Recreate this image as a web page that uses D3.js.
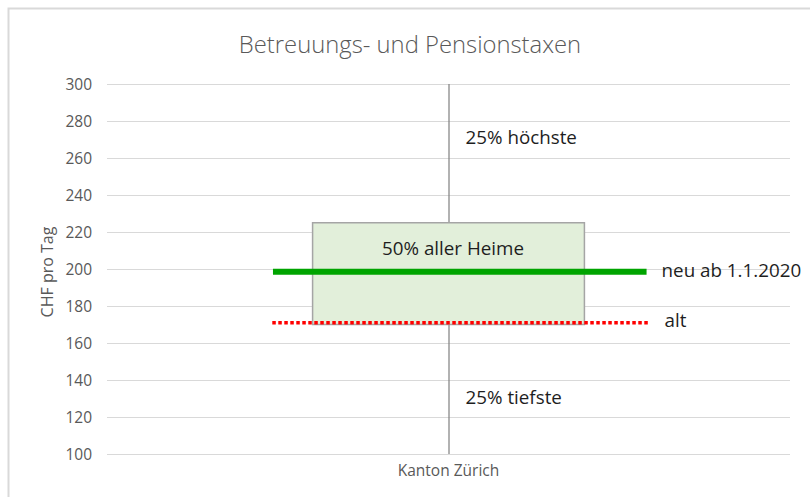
<!DOCTYPE html>
<html><head><meta charset="utf-8">
<script src="https://cdn.jsdelivr.net/npm/d3@7"></script>
<style>
html,body{margin:0;padding:0;background:#fff;}
text{font-family:"Open Sans","Noto Sans",sans-serif;}
</style></head>
<body>
<svg id="chart" width="810" height="497"></svg>
<script>
// ---- data ----
const categories = ["Kanton Zürich"];
const whiskerLow = [100];
const boxLow = [170];
const boxHigh = [225];
const whiskerHigh = [300];
const rateNew = [198.5];
const rateOld = [171];
const yTicks = [100,120,140,160,180,200,220,240,260,280,300];
const title = "Betreuungs- und Pensionstaxen";
const yTitle = "CHF pro Tag";
const labelTop = "25% höchste";
const labelMid = "50% aller Heime";
const labelBottom = "25% tiefste";
const labelNew = "neu ab 1.1.2020";
const labelOld = "alt";

const svg = d3.select("#chart");
const W = 810, H = 497;
const plot = {left:107, right:790, top:84, bottom:454};

// chart frame
svg.append("rect").attr("x",0).attr("y",0).attr("width",W).attr("height",H).attr("fill","#fff");
svg.append("path").attr("d",`M8.5,${H}V8.5H${W}`).attr("fill","none").attr("stroke","#d9d9d9").attr("stroke-width",2);

const x = d3.scaleBand().domain(categories).range([plot.left, plot.right]);
const y = d3.scaleLinear().domain([100,300]).range([plot.bottom, plot.top]);
const bw = x.bandwidth();

// gridlines
svg.append("g").selectAll("line").data(yTicks).join("line")
  .attr("x1",plot.left).attr("x2",plot.right)
  .attr("y1",d=>y(d)+0.5).attr("y2",d=>y(d)+0.5)
  .attr("stroke","#d9d9d9").attr("stroke-width",1);

// y axis labels
const yAxis = d3.axisLeft(y).tickValues(yTicks).tickSize(0).tickPadding(0).tickFormat(d3.format("d"));
const ga = svg.append("g").attr("transform",`translate(${plot.left-15},0)`).call(yAxis);
ga.select(".domain").remove();
ga.selectAll("text").attr("font-family","Open Sans").attr("font-size",15.5).attr("fill","#595959").attr("dy","0.35em");

// x axis label
const gx = svg.append("g").attr("transform",`translate(0,${plot.bottom})`)
  .call(d3.axisBottom(x).tickSize(0).tickPadding(0));
gx.select(".domain").remove();
gx.selectAll("text").attr("font-family","Open Sans").attr("font-size",15.5).attr("fill","#595959").attr("dy","1.45em");

categories.forEach((c,i)=>{
  const cx = x(c) + bw/2;
  // whisker
  svg.append("line").attr("x1",cx+0.5).attr("x2",cx+0.5)
    .attr("y1",y(whiskerLow[i])).attr("y2",y(whiskerHigh[i]))
    .attr("stroke","#7f7f7f").attr("stroke-width",1.2);
  // box
  const bx0 = cx - bw*0.199, bx1 = cx + bw*0.199;
  svg.append("rect").attr("x",bx0).attr("y",y(boxHigh[i]))
    .attr("width",bx1-bx0).attr("height",y(boxLow[i])-y(boxHigh[i]))
    .attr("fill","#e2efda").attr("stroke","#a5a5a5").attr("stroke-width",1.5);
  // new rate line
  svg.append("line").attr("x1",cx - bw*0.257).attr("x2",cx + bw*0.29)
    .attr("y1",y(rateNew[i])).attr("y2",y(rateNew[i]))
    .attr("stroke","#00a400").attr("stroke-width",6);
  // old rate line
  svg.append("line").attr("x1",cx - bw*0.258).attr("x2",cx + bw*0.293)
    .attr("y1",y(rateOld[i])).attr("y2",y(rateOld[i]))
    .attr("stroke","#ff0000").attr("stroke-width",3.5).attr("stroke-dasharray","3.5,2.5");

  const tcol = "#1e1e1e";
  const fs = 18.8;
  svg.append("text").attr("x",cx+17).attr("y",y(271)).attr("dy","0.35em")
    .attr("font-size",fs).attr("fill",tcol).text(labelTop);
  svg.append("text").attr("x",cx+17).attr("y",y(130.5)).attr("dy","0.35em")
    .attr("font-size",fs).attr("fill",tcol).text(labelBottom);
  svg.append("text").attr("x",cx+4.5).attr("y",y(211)).attr("dy","0.35em")
    .attr("text-anchor","middle").attr("font-size",fs).attr("fill",tcol).text(labelMid);
  svg.append("text").attr("x",cx + bw*0.29 + 15).attr("y",y(rateNew[i]+0.5)).attr("dy","0.35em")
    .attr("font-size",fs).attr("fill",tcol).text(labelNew);
  svg.append("text").attr("x",cx + bw*0.293 + 16).attr("y",y(rateOld[i]+1)).attr("dy","0.35em")
    .attr("font-size",fs).attr("fill",tcol).text(labelOld);
});

// title
svg.append("text").attr("x",410).attr("y",45).attr("dy","0.35em").attr("text-anchor","middle")
  .attr("font-size",23.8).attr("font-weight",300).attr("fill","#595959").text(title);
// y title
svg.append("text").attr("transform",`translate(47,${(plot.top+plot.bottom)/2+3}) rotate(-90)`)
  .attr("dy","0.35em").attr("text-anchor","middle").attr("font-size",16).attr("fill","#595959").text(yTitle);
</script>
</body></html>
